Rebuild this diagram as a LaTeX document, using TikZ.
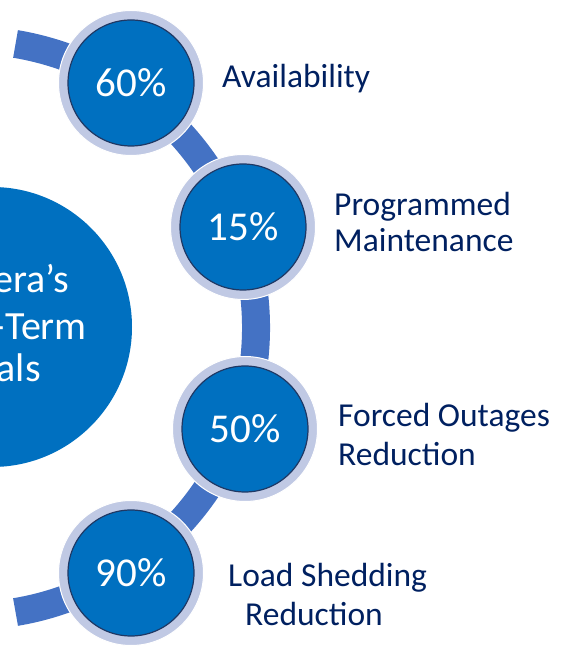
\documentclass[tikz,border=0pt]{standalone}
\usepackage{fontspec}
\setmainfont{Carlito}
\usetikzlibrary{positioning}
\definecolor{goalblue}{RGB}{0,112,192}
\definecolor{bandblue}{RGB}{68,114,196}
\definecolor{ringgray}{RGB}{192,201,228}
\definecolor{edgenavy}{RGB}{31,56,100}
\definecolor{labelnavy}{RGB}{0,32,96}

\begin{document}
\begin{tikzpicture}[x=1pt, y=1pt,
  outerring/.style={circle, fill=ringgray, draw=white, line width=1pt, minimum size=145pt, inner sep=0pt},
  pctcircle/.style={circle, fill=goalblue, draw=edgenavy, line width=1.2pt, minimum size=126pt, inner sep=0pt, text=white, font=\fontsize{41}{48}\selectfont},
  goaltext/.style={anchor=base east, inner sep=0pt, text=white, font=\fontsize{40}{48}\selectfont},
  labeltext/.style={anchor=base west, inner sep=0pt, text=labelnavy, font=\fontsize{33.5}{40}\selectfont},
  band/.style={bandblue, line width=28pt}]
\useasboundingbox (0,0) rectangle (566,647);
\clip (0,0) rectangle (566,647);
% Arc behind the percentage circles
\coordinate (hub) at (-32,319);
\draw[band] ([shift={(hub)}]80.5:288) arc[start angle=80.5, end angle=-80.5, radius=288];
% Big goals circle, cut by the left edge
\node[circle, fill=goalblue, minimum size=280pt, inner sep=0pt] (goals) at (-8,320) {};
\node[goaltext] (goalA) at (69,354) {era’s};
\node[goaltext] (goalB) at (87,307) {-Term};
\node[goaltext] (goalC) at (41,265) {als};
% Percentage circles
\node[outerring] (r60) at (131,564) {};
\node[pctcircle] (p60) at (r60) {60\%};
\node[outerring] (r15) at (243,420) {};
\node[pctcircle] (p15) at (r15) {15\%};
\node[outerring] (r50) at (245,218) {};
\node[pctcircle] (p50) at (r50) {50\%};
\node[outerring] (r90) at (131,74) {};
\node[pctcircle] (p90) at (r90) {90\%};
% Labels
\node[labeltext] (availability) at (222,559) {Availability};
\node[labeltext] (progA) at (334,431) {Programmed};
\node[labeltext] (progB) at (334,395) {Maintenance};
\node[labeltext] (forcedA) at (338,220) {Forced Outages};
\node[labeltext] (forcedB) at (338,181) {Reduction};
\node[labeltext] (sheddingA) at (228,60) {Load Shedding};
\node[labeltext] (sheddingB) at (245,21) {Reduction};
\end{tikzpicture}
\end{document}
